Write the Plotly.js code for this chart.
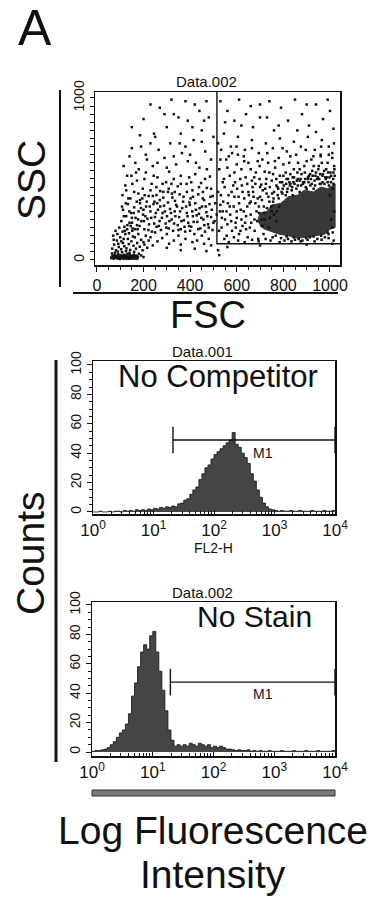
<!DOCTYPE html>
<html><head><meta charset="utf-8">
<script src="https://cdn.plot.ly/plotly-3.0.1.min.js"></script>
<style>html,body{margin:0;padding:0;background:#fff}#chart{width:380px;height:906px}</style>
</head><body><div id="chart"></div>
<script>
// ---------- DATA ----------
// Scatter (FSC, SSC) events, grouped by region
const debrisPts = [[62,12],[68,22],[72,8],[75,30],[80,15],[84,25],[88,10],[92,35],[95,18],[98,6],[102,28],[105,14],[110,22],[113,9],[117,32],[120,17],[124,26],[128,11],[131,38],[135,20],[139,8],[142,29],[146,15],[150,24],[154,12],[158,33],[162,19],[166,27],[170,10],[174,22],[65,40],[78,45],[90,52],[108,48],[125,55],[140,44],[160,50],[180,38],[190,28],[200,18],
[66,70],[74,95],[82,60],[86,120],[94,80],[100,140],[104,66],[112,105],[118,85],[122,160],[127,72],[133,130],[137,98],[143,62],[148,115],[152,180],[157,88],[163,140],[168,70],[173,105],[178,160],[184,82],[190,125],[196,60],[204,95],[210,150],[216,75],[222,120],[70,150],[80,180],[96,200],[110,175],[130,190],[145,210],[72,125],[88,160],[115,130],[138,165],[155,145],[175,190],[92,100],[105,115]];
const cloudPts = [[105,240],[112,310],[118,205],[126,270],[133,345],[140,230],[147,290],[153,195],[160,325],[166,260],[172,215],[179,300],[185,350],[191,240],[198,280],[204,190],[211,330],[217,255],[224,220],[230,300],[236,175],[243,345],[249,265],[256,205],[262,310],[269,240],[275,185],[282,290],[288,335],[295,225],[301,270],[308,195],[314,315],[321,250],[327,180],[334,300],[340,340],[347,215],[353,265],[360,190],[366,320],[373,245],[379,175],[386,290],[392,230],[399,340],[405,205],[412,270],[418,160],[425,310],[431,235],[438,285],[444,195],[451,330],[457,250],[464,175],[470,295],[477,220],[483,345],[490,265],[496,185],[505,240],
[120,180],[150,260],[200,310],[250,170],[300,160],[350,150],[400,180],[450,150],[480,130],[430,120],[380,130],[330,120],[280,135],[230,140],[260,115],[310,100],[360,95],[410,110],[460,100],[490,90],[240,90],[300,75],[360,60],[420,70],[470,55],[200,110],
[110,400],[122,460],[135,380],[148,520],[160,420],[172,490],[185,370],[197,440],[210,540],[222,395],[235,470],[247,360],[260,510],[272,425],[285,385],[297,480],[310,545],[322,410],[335,365],[347,455],[360,520],[372,390],[385,470],[397,355],[410,430],[422,530],[435,405],[447,475],[460,370],[472,445],[485,515],[497,395],[205,400],[255,450],[305,420],[355,405],[405,480],[455,420],[270,370],[330,500],
[108,330],[116,270],[124,350],[131,215],[139,300],[144,380],[151,230],[158,290],[164,190],[171,360],[177,250],[183,210],[189,320],[195,380],[202,240],[208,270],[214,360],[221,185],[227,330],[233,260],[240,395],[246,225],[253,290],[259,350],[266,210],[272,330],[279,260],[285,420],[292,300],[298,200],[305,355],[311,240],[318,290],[324,385],[331,225],[337,270],[344,330],[350,185],[357,300],[363,240],[370,360],[376,205],[383,330],[389,270],[396,210],[402,380],[409,300],[415,235],[422,350],[428,275],[435,190],[441,320],[448,260],[454,380],[461,215],[467,330],[474,270],[480,200],[487,390],[493,310],[500,230],[508,350],[514,280],
[126,430],[152,470],[178,410],[204,500],[230,430],[256,400],[282,470],[308,440],[334,420],[360,470],[386,420],[412,390],[438,450],[464,500],[490,440],[168,540],[244,520],[320,470],[396,510],[472,560]];
const upperPts = [[115,580],[140,640],[165,600],[190,700],[215,620],[240,580],[265,680],[290,630],[315,720],[340,590],[365,660],[390,610],[415,740],[440,570],[465,670],[490,620],[180,560],[230,720],[300,570],[380,700],[450,730],[260,600],[400,650],[150,690],
[150,820],[200,870],[245,780],[270,940],[300,820],[330,900],[360,780],[390,860],[420,960],[450,800],[480,880],[500,760],[230,960],[320,990],[440,920],[380,980],[185,770],[470,980],
[250,760],[350,880],[410,820],[290,900],[460,860],[210,650],[330,640],[130,520],[355,720],[425,600]];
const gateTopPts = [[530,980],[560,920],[590,860],[610,990],[640,900],[670,820],[700,960],[730,880],[760,800],[790,940],[820,860],[850,990],[880,900],[910,830],[940,960],[970,870],[1000,920],[1015,810],[545,780],[575,700],[605,760],[635,680],[665,740],[695,660],[725,720],[755,690],[785,750],[815,670],[845,730],[875,700],[905,760],[935,680],[965,740],[995,700],[1010,660],[550,850],[620,830],[700,880],[780,830],[860,800],[940,790],[990,990],[520,720],[580,660],[660,950],[740,980],[900,960],[960,650],
[533,680],[566,640],[599,700],[632,610],[665,690],[698,580],[731,660],[764,610],[797,690],[830,640],[863,600],[896,680],[929,640],[962,700],[995,650],[1017,720]];
const gateMidPts = [[525,560],[540,480],[555,620],[570,520],[585,460],[600,590],[615,500],[630,640],[645,470],[660,560],[675,510],[690,610],[705,465],[720,545],[735,600],[750,490],[765,570],[780,630],[795,480],[810,540],[825,600],[840,510],[855,650],[870,560],[885,480],[900,610],[915,530],[930,580],[945,500],[960,640],[975,550],[990,600],[1005,520],[1018,580],[530,620],[560,570],[590,540],[620,560],[650,600],[680,470],[710,620],[740,540],[770,500],[800,590],[830,470],[860,540],[890,580],[920,620],[950,560],[980,510],[1010,630],[545,500],[605,650],[665,490],[725,470],[785,520],[845,560],[905,500],[965,600],
[532,400],[548,450],[562,350],[578,420],[593,480],[608,390],[622,460],[638,510],[652,400],[668,450],[682,540],[698,500],[712,430],[727,500],[742,450],[756,530],[770,460],[786,480],[800,520],[814,500],[830,530],[846,510],[862,500],[878,530],[892,540],[910,520],[924,550],[940,540],[952,580],[968,520],[984,560],[998,510],[1015,540]];
const gateLowPts = [[520,420],[528,300],[535,200],[542,360],[550,250],[557,150],[565,400],[572,280],[580,180],[587,330],[595,230],[602,440],[610,160],[617,310],[625,210],[632,380],[640,270],[647,140],[655,350],[662,230],[670,420],[677,180],[685,300],[692,130],[700,390],[707,250],[715,160],[722,440],[730,320],[737,200],[745,120],[752,410],[760,280],[767,150],[775,450],[782,330],[790,135],[797,440],[805,120],[812,470],[820,130],[828,460],[835,115],[843,480],[850,125],[858,490],[866,130],[874,500],[882,120],[890,480],[898,135],[906,510],[914,140],[922,470],[930,145],[938,520],[946,130],[954,500],[962,150],[970,530],[978,140],[986,510],[994,160],[1002,540],[1012,170],[1020,520],[530,340],[560,220],[590,390],[620,250],[650,420],[680,350],[710,210],[740,360],[770,240],[600,300],[640,190],[700,450],[760,420],[820,500],
[610,350],[625,420],[645,330],[660,280],[672,390],[688,240],[695,330],[708,370],[718,290],[728,410],[742,260],[748,330],[758,380],[772,300],[778,440],[792,420],[802,460],[818,440],[826,480],[838,450],[848,470],[862,460],[870,490],[884,470],[894,500],[908,480],[918,500],[926,520],[934,490],[948,510],[958,530],[968,480],[982,500],[992,540],[1004,480],[1014,500],[1019,560],[996,460],[976,470],[956,470],[936,460],[916,460],[896,450],[876,460],[856,440],[836,430],[816,420],[796,410],[776,400],[756,360],[736,390],[716,330],[696,290],[676,250],[656,200],[636,230],[616,180],[596,200],[576,240],[556,300],[536,260],[524,180],[547,130],[566,110],[588,140],[606,120],[634,110],[666,125],[694,115],[724,130],[754,140],[784,110],[814,145],[844,140],[874,115],[904,125],[934,115],[964,125],[994,135],[1016,120],[1010,200],[1018,300],[1005,250],[990,170],[1012,440],[1000,400],
[540,300],[570,330],[600,260],[630,300],[660,360],[690,380],[720,250],[750,300],[780,380],[810,400],[840,400],[870,420],[900,440],[930,440],[960,470],[990,480],[1015,470],
[520,60],[525,30],[560,80],[700,90],[900,95],[1010,100]];
// Dense, saturated areas (outline of solid regions)
const blobFsc = [690,700,730,750,790,820,860,890,930,960,990,1022,1022,1000,980,940,900,860,820,780,750,720,700];
const blobSsc = [240,290,300,340,350,390,400,430,420,450,440,470,200,190,160,150,140,135,150,160,175,190,210];
const debrisBlobFsc = [58,62,110,150,180,178,120];
const debrisBlobSsc = [8,28,32,30,22,4,2];
// Analysis gate (FSC/SSC)
const gateFsc = [515,515,1043];
const gateSsc = [1037,100,100];
const fscTickVals = [0,200,400,600,800,1000];
const fscTickText = ['0','200','400','600','800','1000'];
const sscTickVals = [0,1000];
const sscTickText = ['0','1000'];

// Histograms: counts in 0.05-decade bins from 10^0 to 10^4
const binWidthDecades = 0.05;
const noCompetitorCounts = [0,0,0.5,0,0,0.5,0,0.5,0.5,0, 1,0.5,1,0.5,1.5,1,1.5,1,2,1.5,
 2.5,2,3,2.5,3.5,3,4,3.5,5.5,6, 8,9,12,15,17,22,26,30,32,36,
 39,41,43,45,47,49,54,46,44,40, 37,33,26,21,15,10,6,3.5,2,1.5,
 1,0.5,1,0.5,0.5,1,0.5,0.5,1,0.5, 0.5,0.5,1,0.5,0.5,0.5,1,0.5,0.5,1];
const noStainCounts = [0.5,1,1,1.5,2,3,5,7,10,13, 15,19,26,38,47,58,68,73,70,79,
 82,68,55,42,28,15,8,4,5,4, 5,4,6,5,4,6,5,4,5,3,
 4,3,4,3,2,2,1.5,1,1.5,1, 1,1.5,0.5,1,0.5,1,0.5,0.5,1,0.5,
 0.5,0.5,1,0.5,0.5,0.5,1,0.5,0.5,0.5, 1,0.5,0.5,0.5,1,0.5,0.5,0.5,0.5,1];
// M1 marker gates
const m1NoCompRange = [21,10000];
const m1NoCompLevel = 49;
const m1NoStainRange = [19.5,10000];
const m1NoStainLevel = 47.5;
const decadeVals = [1,10,100,1000,10000];
const decadeText = ['10<sup>0</sup>','10<sup>1</sup>','10<sup>2</sup>','10<sup>3</sup>','10<sup>4</sup>'];
const countTickVals = [0,20,40,60,80,100];
const countTickText = ['0','20','40','60','80','100'];

// ---------- BUILD ----------
const FONT = 'Liberation Sans, Arial, Helvetica, sans-serif';
const W = 380, H = 906;
const px = v => v / W;
const py = v => 1 - v / H;

const allPts = debrisPts.concat(cloudPts, upperPts, gateTopPts, gateMidPts, gateLowPts);
const fsc = allPts.map(p => p[0]);
const ssc = allPts.map(p => p[1]);

function histXY(counts) {
  const x = [], y = [];
  for (let i = 0; i < counts.length; i++) { x.push(Math.pow(10, i * binWidthDecades)); y.push(counts[i]); }
  x.push(Math.pow(10, counts.length * binWidthDecades)); y.push(counts[counts.length - 1]);
  return {x, y};
}
const h1 = histXY(noCompetitorCounts);
const h2 = histXY(noStainCounts);

const minorLog = [];
for (let d = 0; d < 4; d++) for (let k = 2; k <= 9; k++) minorLog.push(k * Math.pow(10, d));

function m1Trace(range, level, xa, ya) {
  return {
    x: [range[0], range[1], null, range[0], range[0], null, range[1], range[1]],
    y: [level, level, null, level - 9, level + 9, null, level - 9, level + 9],
    xaxis: xa, yaxis: ya, mode: 'lines', line: {color: '#111', width: 1.4},
    hoverinfo: 'skip', type: 'scatter'
  };
}

const traces = [
  {x: blobFsc, y: blobSsc, fill: 'toself', fillcolor: '#383838', mode: 'lines',
   line: {color: '#383838', width: 1}, xaxis: 'x', yaxis: 'y', type: 'scatter'},
  {x: debrisBlobFsc, y: debrisBlobSsc, fill: 'toself', fillcolor: '#444', mode: 'lines',
   line: {color: '#444', width: 1}, xaxis: 'x', yaxis: 'y', type: 'scatter'},
  {x: fsc, y: ssc, mode: 'markers', marker: {symbol: 'square', size: 2.5, color: '#111'},
   xaxis: 'x', yaxis: 'y', type: 'scatter'},
  {x: gateFsc, y: gateSsc, mode: 'lines', line: {color: '#111', width: 1.4},
   xaxis: 'x', yaxis: 'y', type: 'scatter'},
  {x: h1.x, y: h1.y, mode: 'lines', line: {shape: 'hv', color: '#111', width: 0.8},
   fill: 'tozeroy', fillcolor: '#454545', xaxis: 'x2', yaxis: 'y2', type: 'scatter'},
  m1Trace(m1NoCompRange, m1NoCompLevel, 'x2', 'y2'),
  {x: h2.x, y: h2.y, mode: 'lines', line: {shape: 'hv', color: '#111', width: 0.8},
   fill: 'tozeroy', fillcolor: '#454545', xaxis: 'x3', yaxis: 'y3', type: 'scatter'},
  m1Trace(m1NoStainRange, m1NoStainLevel, 'x3', 'y3')
];

const axBase = {showgrid: false, zeroline: false, showline: true, mirror: true,
  linecolor: '#111', linewidth: 1.5, tickcolor: '#111', fixedrange: true,
  tickfont: {family: FONT, size: 16, color: '#111'}};

function logX(domain, anchor) {
  return Object.assign({}, axBase, {
    type: 'log', domain: domain, anchor: anchor, range: [0, 4],
    tickmode: 'array', tickvals: decadeVals, ticktext: decadeText,
    ticks: 'inside', ticklen: 4, tickwidth: 1,
    tickfont: {family: FONT, size: 17, color: '#111'},
    minor: {tickmode: 'array', tickvals: minorLog, ticks: 'inside', ticklen: 3, tickwidth: 1, tickcolor: '#111'}
  });
}
function countY(domain, anchor, range) {
  return Object.assign({}, axBase, {
    domain: domain, anchor: anchor, range: range,
    tickmode: 'array', tickvals: countTickVals, ticktext: countTickText,
    ticks: 'outside', ticklen: 5, tickwidth: 1, tickangle: -90,
    tickfont: {family: FONT, size: 14, color: '#111'},
    minor: {dtick: 5, tick0: 0, ticks: 'outside', ticklen: 3, tickwidth: 1, tickcolor: '#111'}
  });
}

const ann = (text, x, y, size, extra) => Object.assign({
  text: text, x: px(x), y: py(y), xref: 'paper', yref: 'paper',
  xanchor: 'center', yanchor: 'middle', showarrow: false,
  font: {family: FONT, size: size, color: '#111'}
}, extra || {});

const layout = {
  width: W, height: H, margin: {l: 0, r: 0, t: 0, b: 0},
  paper_bgcolor: '#fff', plot_bgcolor: '#fff', showlegend: false,
  xaxis: Object.assign({}, axBase, {
    domain: [px(95), px(340)], anchor: 'y', range: [-8, 1043],
    tickmode: 'array', tickvals: fscTickVals, ticktext: fscTickText,
    ticks: 'outside', ticklen: 5, tickwidth: 1,
    minor: {dtick: 50, tick0: 0, ticks: 'outside', ticklen: 3, tickwidth: 1, tickcolor: '#111'}
  }),
  yaxis: Object.assign({}, axBase, {
    domain: [py(265), py(92)], anchor: 'x', range: [-31, 1037],
    tickmode: 'array', tickvals: sscTickVals, ticktext: sscTickText,
    ticks: 'outside', ticklen: 4, tickwidth: 1, tickangle: -90,
    tickfont: {family: FONT, size: 14, color: '#111'},
    minor: {dtick: 50, tick0: 0, ticks: 'outside', ticklen: 4, tickwidth: 1, tickcolor: '#111'}
  }),
  xaxis2: logX([px(93), px(335)], 'y2'),
  yaxis2: countY([py(514), py(361)], 'x2', [-1.4, 102.7]),
  xaxis3: logX([px(92), px(335)], 'y3'),
  yaxis3: countY([py(756), py(602)], 'x3', [-2.7, 102]),
  shapes: [
    {type: 'line', xref: 'paper', yref: 'paper', x0: px(60), x1: px(60), y0: py(90), y1: py(287), line: {color: '#111', width: 2}},
    {type: 'line', xref: 'paper', yref: 'paper', x0: px(73), x1: px(338), y0: py(293), y1: py(293), line: {color: '#111', width: 2}},
    {type: 'line', xref: 'paper', yref: 'paper', x0: px(56), x1: px(56), y0: py(360), y1: py(762), line: {color: '#111', width: 3}},
    {type: 'rect', xref: 'paper', yref: 'paper', x0: px(92), x1: px(335), y0: py(796), y1: py(790), fillcolor: '#7a7a7a', line: {color: '#333', width: 1}}
  ],
  annotations: [
    ann('A', 35, 28, 50),
    ann('Data.002', 206, 81, 15),
    ann('SSC', 31, 180, 39, {textangle: -90}),
    ann('FSC', 208, 315, 38),
    ann('Data.001', 202, 351, 15),
    ann('No Competitor', 218, 376, 31),
    ann('M1', 263, 453, 14),
    ann('FL2-H', 213, 548, 14),
    ann('Counts', 30, 553, 39, {textangle: -90}),
    ann('Data.002', 202, 592, 15),
    ann('No Stain', 254, 616, 30),
    ann('M1', 263, 694, 14),
    ann('Log Fluorescence', 213, 830, 39),
    ann('Intensity', 213, 874, 39)
  ]
};

Plotly.newPlot('chart', traces, layout, {staticPlot: true, displayModeBar: false});
</script>
</body></html>
